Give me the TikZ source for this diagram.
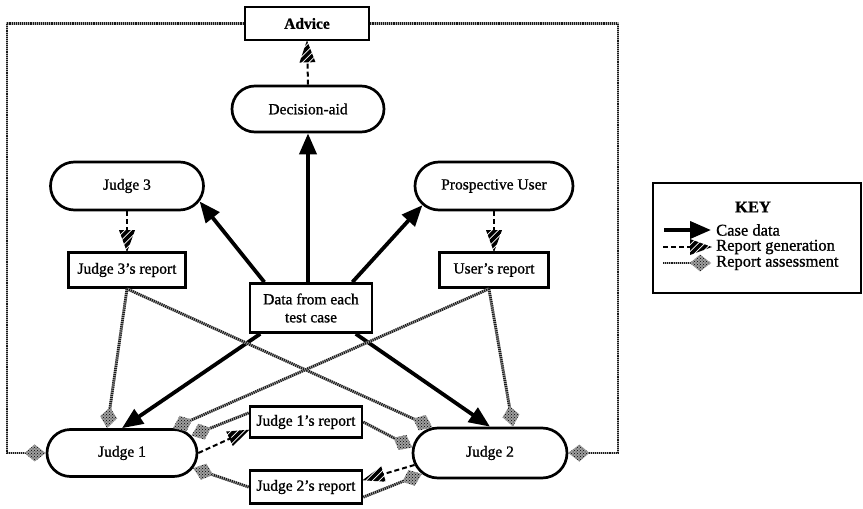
\documentclass[tikz,border=0pt]{standalone}
\usepackage{fontspec}
\setmainfont{Liberation Serif}[FakeBold=1]
\usetikzlibrary{arrows.meta,shapes.misc,decorations.markings,patterns}

\newcommand\figfont{\fontsize{15.5}{18}\selectfont}
\newcommand\keyfont{\fontsize{16.5}{19}\selectfont}

% striped head of a report-generation connector: a triangle
% filled with page-aligned thick hatching
\newcommand\genhead{%
  \begin{scope}
    \clip (1pt,0pt) -- (-21pt,8pt) -- (-21pt,-8pt) -- cycle;
    \pgftransformresetnontranslations
    \foreach \k in {-5,...,5}
      \draw[solid, line width=3.6pt, line cap=butt, shorten >=0pt, shorten <=0pt]
        (\k*6.6pt,0pt) ++(-25pt,-25pt) -- ++(50pt,50pt);
  \end{scope}}
% dotted kite head of a report-assessment connector
\newcommand\assesshead{%
  \fill[gray!75] (0pt,0pt) -- (-11pt,8.5pt) -- (-21pt,0pt) -- (-11pt,-8.5pt) -- cycle;
  \fill[pattern=crosshatch dots, pattern color=black]
    (0pt,0pt) -- (-11pt,8.5pt) -- (-21pt,0pt) -- (-11pt,-8.5pt) -- cycle;}

\tikzset{
  box/.style={draw, rectangle, line width=2.7pt, inner sep=0pt, align=center, font=\figfont},
  pill/.style={draw, rounded rectangle, line width=2.7pt, inner sep=0pt, align=center, font=\figfont},
  casedata/.style={line width=3.8pt, -{Triangle[length=21pt,width=17pt]}},
  gen/.style={line width=2pt, dash pattern=on 5pt off 3pt, shorten >=19pt,
    postaction={decorate, decoration={markings, mark=at position 1 with {\genhead}}}},
  assess/.style={draw=black!90, line width=2.8pt, dash pattern=on 1.1pt off 1pt, shorten >=17pt,
    preaction={draw=gray!65, solid, line width=2.8pt, shorten >=17pt},
    postaction={decorate, decoration={markings, mark=at position 1 with {\assesshead}}}},
  keytext/.style={anchor=west, inner sep=0pt, font=\keyfont}
}

\begin{document}
\begin{tikzpicture}[x=1pt,y=-1pt]
\useasboundingbox (0,0) rectangle (863,509);

% nodes
\node[box, minimum width=124pt, minimum height=33pt, font=\figfont\bfseries] (advice) at (307,23.5) {Advice};
\node[pill, minimum width=152pt, minimum height=46pt] (decision) at (308,109) {Decision-aid};
\node[pill, minimum width=153pt, minimum height=48pt] (judge3) at (127,186) {Judge 3};
\node[pill, minimum width=158pt, minimum height=48pt] (prosp) at (494,186) {Prospective User};
\node[box, minimum width=117pt, minimum height=35pt] (j3r) at (127,270) {Judge 3's report};
\node[box, minimum width=109pt, minimum height=35pt] (ur) at (494,270) {User's report};
\node[box, minimum width=122pt, minimum height=49pt] (data) at (311,308) {Data from each\\test case};
\node[pill, minimum width=150pt, minimum height=47pt] (judge1) at (122,453) {Judge 1};
\node[pill, minimum width=154pt, minimum height=50pt] (judge2) at (490,453) {Judge 2};
\node[box, minimum width=112pt, minimum height=31pt] (j1r) at (306,422) {Judge 1's report};
\node[box, minimum width=112pt, minimum height=33pt] (j2r) at (306,487) {Judge 2's report};

% corners of the advice loop
\coordinate (fl) at (7,23.5);
\coordinate (fr) at (618,23.5);

% case data
\draw[casedata] (decision.south |- data.north) -- (decision.south);
\draw[casedata] (data.151) -- (judge3.-12);
\draw[casedata] (data.32) -- (prosp.-165);
\draw[casedata] (data.-153) -- (judge1.north);
\draw[casedata] (data.-30) -- (judge2.north);

% report generation
\draw[gen] (decision.north) -- (advice.south);
\draw[gen] (judge3.south) -- (j3r.north);
\draw[gen] (prosp.south) -- (ur.north);
\draw[gen] (judge1.east) -- (j1r.-172);
\draw[gen] (judge2.189) -- (j2r.7);

% report assessment
\draw[assess] (j3r.south) -- (judge1.121);
\draw[assess] (j3r.south) -- (judge2.156);
\draw[assess] (ur.-105) -- (judge1.26);
\draw[assess] (ur.-105) -- (judge2.49);
\draw[assess] (j1r.east) -- (judge2.176);
\draw[assess] (j1r.171) -- (judge1.14);
\draw[assess] (j2r.west) -- (judge1.-12);
\draw[assess] (j2r.-10) -- (judge2.197);
\draw[assess] (advice.west) -- (fl) -- (fl |- judge1.west) -- (judge1.west);
\draw[assess] (advice.east) -- (fr) -- (fr |- judge2.east) -- (judge2.east);

% key
\node[draw, line width=2.7pt, minimum width=208pt, minimum height=110pt] (keybox) at (757,238) {};
\node[font=\keyfont\bfseries, inner sep=0pt] (keytitle) at (753,207) {KEY};
\coordinate (kca) at (664,230);
\coordinate (kcb) at (711,230);
\coordinate (kga) at (663,247);
\coordinate (kgb) at (711,247);
\coordinate (kaa) at (663,263);
\coordinate (kab) at (711,263);
\draw[casedata] (kca) -- (kcb);
\draw[gen] (kga) -- (kgb);
\draw[assess] (kaa) -- (kab);
\node[keytext] (kt1) at (716,230) {Case data};
\node[keytext] (kt2) at (716,247) {Report generation};
\node[keytext] (kt3) at (716,263) {Report assessment};
\end{tikzpicture}
\end{document}
